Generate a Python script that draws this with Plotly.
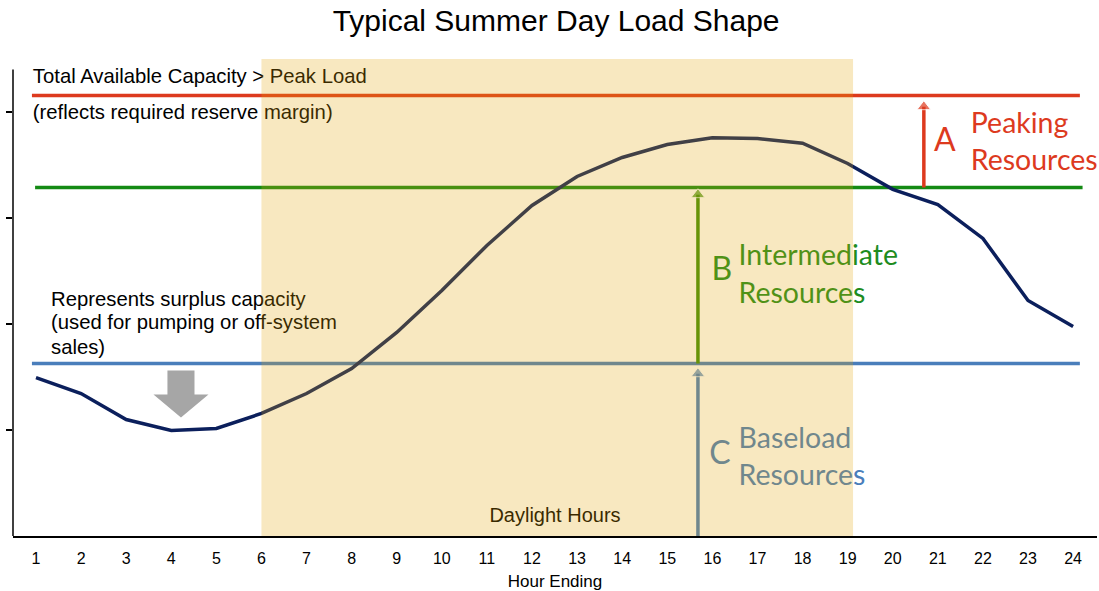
import plotly.graph_objects as go

# ---------------- data ----------------
hours = list(range(1, 25))
load = [1.495, 1.344, 1.099, 0.995, 1.014, 1.156, 1.344, 1.58, 1.92, 2.316, 2.741, 3.118,
        3.392, 3.571, 3.693, 3.758, 3.75, 3.706, 3.514, 3.27, 3.127, 2.807, 2.222, 1.976]
y_ticks = [1, 2, 3, 4]

total_capacity = 4.156       # Total Available Capacity > Peak Load
intermediate_level = 3.288   # top of intermediate resources
baseload_level = 1.627       # top of baseload resources
cap_x_start = [0.91, 0.98, 0.91]
cap_x_end = [24.15, 24.21, 24.15]

daylight = [6, 19.12]
arrow_a_x = 20.69
arrow_bc_x = 15.68

RED = "#DD3A1E"
GREEN = "#148A14"
GREEN_TXT = "#1E8C1E"
BLUE = "#4A7EBB"
NAVY = "#0B1F5C"
ARIAL = "Liberation Sans, Arial"
CAL = "Lato, Carlito, Calibri"

fig = go.Figure()

# capacity lines
for lvl, xs, xe, col in [(total_capacity, cap_x_start[0], cap_x_end[0], RED),
                         (intermediate_level, cap_x_start[1], cap_x_end[1], GREEN),
                         (baseload_level, cap_x_start[2], cap_x_end[2], BLUE)]:
    fig.add_trace(go.Scatter(x=[xs, xe], y=[lvl, lvl], mode="lines",
                             line=dict(color=col, width=3.5), hoverinfo="skip"))

# load curve
fig.add_trace(go.Scatter(x=hours, y=load, mode="lines",
                         line=dict(color=NAVY, width=3.5), name="Load"))


def arrow(x, y0, y1, col):
    head = 0.068
    return go.Scatter(x=[x, x], y=[y0, y1 - head], mode="lines+markers",
                      line=dict(color=col, width=3.5),
                      marker=dict(symbol=["circle", "triangle-up"], size=[0, 12], color=col),
                      hoverinfo="skip")


fig.add_trace(arrow(arrow_a_x, intermediate_level, total_capacity - 0.038, RED))
fig.add_trace(arrow(arrow_bc_x, baseload_level, intermediate_level, "#3E8E0A"))
fig.add_trace(arrow(arrow_bc_x, 0, baseload_level - 0.028, BLUE))

# black explanatory text (Arial-like)
fig.add_trace(go.Scatter(
    x=[0.93, 0.93, 1.333, 1.333, 1.333],
    y=[4.325, 3.986, 2.222, 2.005, 1.769],
    text=["Total Available Capacity > Peak Load", "(reflects required reserve margin)",
          "Represents surplus capacity", "(used for pumping or off-system", "sales)"],
    mode="text", textposition="middle right", cliponaxis=False,
    textfont=dict(family=ARIAL, size=20.3, color="#000000"), hoverinfo="skip"))

fig.add_trace(go.Scatter(
    x=[12.51], y=[0.175], text=["Daylight Hours"], mode="text",
    textposition="middle center", textfont=dict(family=ARIAL, size=20, color="#000000"),
    hoverinfo="skip"))

# resource labels
for letter, lx, ly, words, wx, wy, col in [
    ("A", 21.155, 3.703, ["Peaking", "Resources"], 21.73, [3.873, 3.524], RED),
    ("B", 16.21, 2.486, ["Intermediate", "Resources"], 16.58, [2.627, 2.269], GREEN_TXT),
    ("C", 16.17, 0.759, ["Baseload", "Resources"], 16.58, [0.901, 0.552], BLUE),
]:
    fig.add_trace(go.Scatter(x=[lx], y=[ly], text=[letter], mode="text",
                             textposition="middle center", cliponaxis=False,
                             textfont=dict(family=CAL, size=32, color=col), hoverinfo="skip"))
    fig.add_trace(go.Scatter(x=[wx, wx], y=wy, text=words, mode="text",
                             textposition="middle right", cliponaxis=False,
                             textfont=dict(family=CAL, size=28.5, color=col), hoverinfo="skip"))

shapes = [
    # y axis line
    dict(type="line", xref="paper", yref="y", x0=0, x1=0, y0=0, y1=4.4,
         line=dict(color="black", width=1.5), layer="below"),
    # gray down arrow (surplus capacity)
    dict(type="path", xref="x", yref="y",
         path="M 3.915 1.561 L 4.515 1.561 L 4.515 1.335 L 4.825 1.335 L 4.215 1.118 "
              "L 3.605 1.335 L 3.915 1.335 Z",
         fillcolor="#A6A6A6", line=dict(width=0), layer="below"),
    # daylight hours band
    dict(type="rect", xref="x", yref="y", x0=daylight[0], x1=daylight[1], y0=0, y1=4.5,
         fillcolor="rgba(227,163,3,0.25)", line=dict(width=0), layer="above"),
]

fig.update_layout(
    width=1099, height=591,
    margin=dict(l=13, r=2, t=59, b=55),
    paper_bgcolor="white", plot_bgcolor="white",
    showlegend=False,
    shapes=shapes,
    title=dict(text="Typical Summer Day Load Shape", x=0.506, xref="container",
               y=1 - 20 / 591, yref="container", yanchor="middle", xanchor="center",
               font=dict(family=ARIAL, size=30, color="black")),
    xaxis=dict(range=[0.49, 24.53], tickvals=hours, ticks="", showgrid=False,
               zeroline=False, showline=True, linecolor="black", linewidth=2,
               ticklabelstandoff=7,
               tickfont=dict(family=ARIAL, size=16, color="black"),
               title=dict(text="Hour Ending", standoff=10,
                          font=dict(family=ARIAL, size=17, color="black"))),
    yaxis=dict(range=[0, 4.5], tickvals=y_ticks, ticks="outside", ticklen=6,
               tickwidth=1.5, tickcolor="black", showticklabels=False,
               showgrid=False, zeroline=False, showline=False),
)

fig.write_html("out.html", config={"displayModeBar": False},
               post_script="document.body.style.margin='0';document.body.style.padding='0';")
